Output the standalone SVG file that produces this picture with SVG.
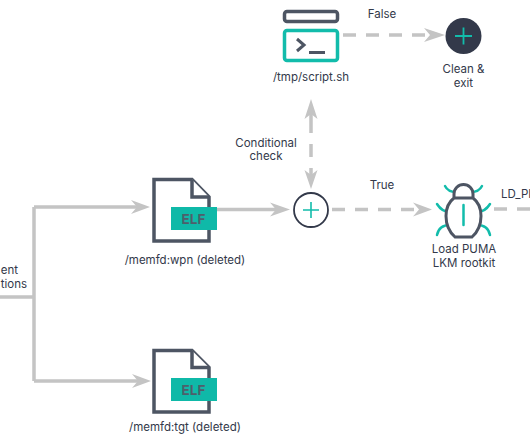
<svg xmlns="http://www.w3.org/2000/svg" width="530" height="442" viewBox="0 0 530 442">
<style>
text{font-family:Inter,"Liberation Sans",sans-serif;font-size:11.5px;fill:#33394a;text-anchor:middle}
.c{fill:none;stroke:#c4c4c4;stroke-width:3.500}
.d{stroke-dasharray:13 10}
.h{fill:#c4c4c4}
.f{fill:#fff;stroke:#4d5563;stroke-width:3.500}
.e{fill:#0fb9a8}
text.l{font-size:13.500px;font-weight:700;fill:#4d5f6b}
.t{fill:none;stroke:#12bcab;stroke-width:2.500;stroke-linecap:round}
</style>
<rect width="530" height="442" fill="#fff"/>
<g id="connectors">
<path class="c" d="M0 297H34M34 207V381M34 207H140M34 381H142"/>
<path class="h" d="M131 200L150 207L131 214L137 207Z"/>
<path class="h" d="M132 374L151 381L132 388L138 381Z"/>
<path class="c" d="M216 209.500H280"/>
<path class="h" d="M270 202.500L290 209.500L270 216.500L276 209.500Z"/>
<path class="c d" d="M332 209.500H418"/>
<path class="h" d="M413 202.500L432 209.500L413 216.500L419 209.500Z"/>
<path class="c" d="M311 113V133M311 144V157M311 168V178"/>
<path class="h" d="M304.500 119L311 99L317.500 119L311 114Z"/>
<path class="h" d="M304.500 170L311 189L317.500 170L311 175Z"/>
<path class="c d" d="M343 35H430"/>
<path class="h" d="M424 28L445 35L424 42L430 35Z"/>
<path class="c d" d="M494 209H530"/>
</g>
<g id="script">
<rect x="284.500" y="11.500" width="53" height="10" rx="2.500" fill="#fff" stroke="#4d5563" stroke-width="3.500"/>
<rect x="284.500" y="30.500" width="53" height="30" rx="2.500" fill="#fff" stroke="#12bcab" stroke-width="3.500"/>
<path d="M297 39L304 45L297 51" fill="none" stroke="#4d5563" stroke-width="3"/>
<path d="M309 52.500H325" fill="none" stroke="#4d5563" stroke-width="3"/>
<text x="311" y="81">/tmp/script.sh</text>
</g>
<g id="clean">
<circle cx="463.500" cy="36" r="18" fill="#33394a"/>
<path d="M463.500 27.500V44.500M455 36H472" fill="none" stroke="#12bcab" stroke-width="1.800"/>
<text x="463.500" y="73">Clean &amp;</text>
<text x="463.500" y="87">exit</text>
</g>
<g id="wpn">
<path class="f" d="M154 179.500H192L209 197V241H154Z"/>
<path d="M192 179.500V197H209" fill="#fff" stroke="#4d5563" stroke-width="3.500"/>
<rect class="e" x="171" y="207" width="46" height="23"/>
<text class="l" x="193.500" y="223.500">ELF</text>
<text x="185" y="264">/memfd:wpn (deleted)</text>
</g>
<g id="tgt">
<path class="f" d="M154 350.500H192L209 367.500V412H154Z"/>
<path d="M192 350.500V367.500H209" fill="#fff" stroke="#4d5563" stroke-width="3.500"/>
<rect class="e" x="171" y="378" width="46" height="23"/>
<text class="l" x="193.500" y="394.500">ELF</text>
<text x="185" y="431">/memfd:tgt (deleted)</text>
</g>
<g id="join">
<circle cx="311" cy="210" r="17" fill="#fff" stroke="#33394a" stroke-width="1.800"/>
<path d="M311 202V218M303 210H319" fill="none" stroke="#12bcab" stroke-width="1.600"/>
</g>
<g id="puma">
<path class="t" d="M445 186Q448 192 456 192M482 186Q479 192 471 192M437 204Q442 212 450 212M490 204Q485 212 477 212M437 235Q439 225 450 225M490 235Q488 225 477 225"/>
<path d="M454 198V194A9.500 9.500 0 0 1 473 194V198M454 198H473Q481 204 481 216Q481 229 472 237H455Q446 229 446 216Q446 204 454 198Z" fill="#fff" stroke="#4d5563" stroke-width="3"/>
<path class="t" d="M463.500 205V225"/>
<text x="464" y="253">Load PUMA</text>
<text x="464" y="267">LKM rootkit</text>
</g>
<g id="labels">
<text x="382" y="18">False</text>
<text x="382" y="189">True</text>
<text x="266" y="147">Conditional</text>
<text x="266" y="160">check</text>
<text x="501" y="198" style="text-anchor:start">LD_PI</text>
<text x="18" y="274" style="text-anchor:end">ent</text>
<text x="27" y="288" style="text-anchor:end">tions</text>
</g>
</svg>
